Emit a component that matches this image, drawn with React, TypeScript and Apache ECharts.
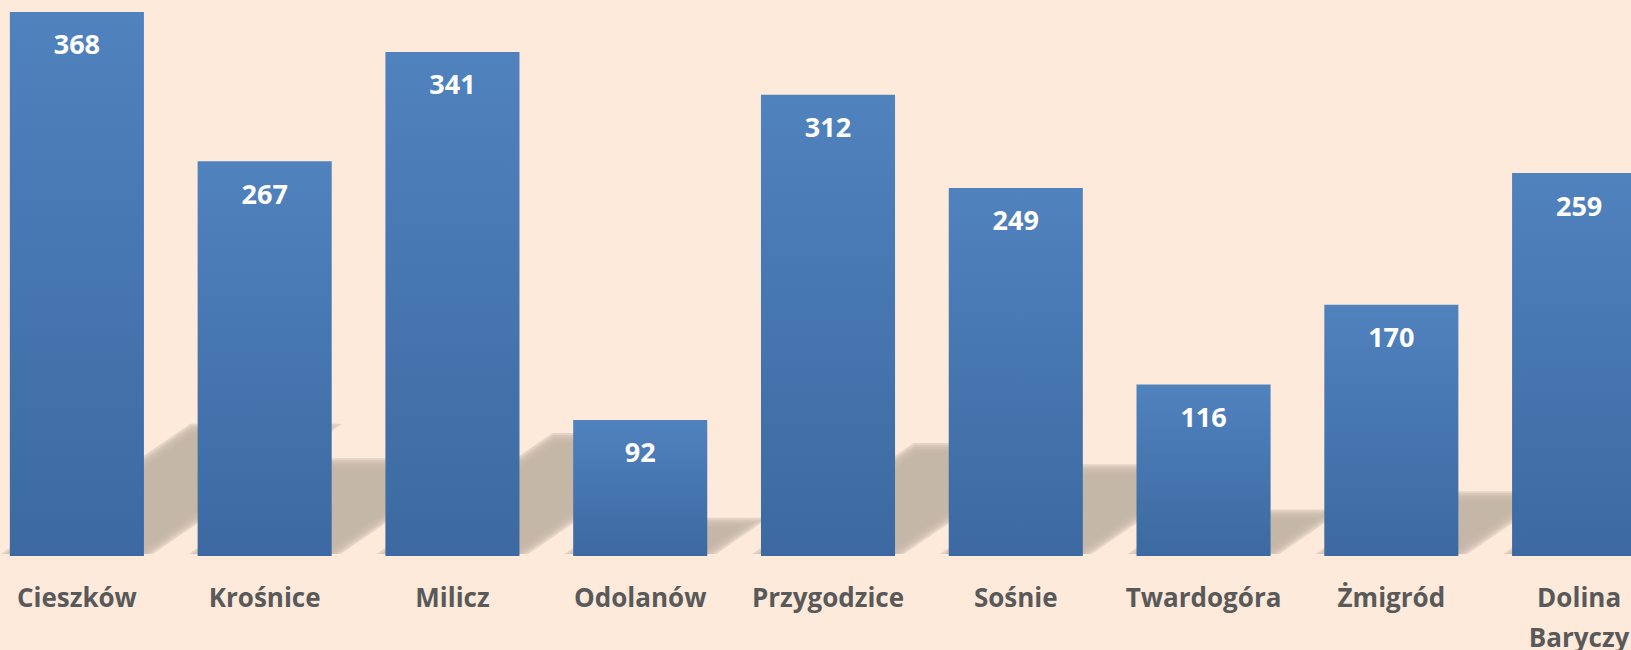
import React, { useEffect, useRef } from "react";
import * as echarts from "echarts";

const categories = [
  "Cieszków",
  "Krośnice",
  "Milicz",
  "Odolanów",
  "Przygodzice",
  "Sośnie",
  "Twardogóra",
  "Żmigród",
  "Dolina Baryczy",
];
const values = [368, 267, 341, 92, 312, 249, 116, 170, 259];

const GAP = 0.286;
const SHADOW_SCALE = 0.23;
const SKEW = 1.456;
const BLUR_STEPS = [-5, -3, -1, 1, 3, 5];

export default function App() {
  const ref = useRef<HTMLDivElement>(null);
  useEffect(() => {
    if (!ref.current) return;
    const chart = echarts.init(ref.current, undefined, { renderer: "svg" });
    const shadowData = values.map((v, i) => [i, v]);
    chart.setOption({
      animation: false,
      backgroundColor: "#FDEADB",
      grid: {
        left: -17,
        width: 1690,
        top: 0,
        height: 556,
        containLabel: false,
        outerBoundsMode: "none",
      },
      xAxis: {
        type: "category",
        data: categories,
        axisLine: { show: false },
        axisTick: { show: false },
        axisLabel: {
          interval: 0,
          margin: 21,
          color: "#595959",
          fontFamily: "Open Sans",
          fontWeight: "bold",
          fontSize: 26,
          lineHeight: 40,
          verticalAlign: "top",
          hideOverlap: false,
          formatter: (v: string) => v.replace(" ", "\n"),
        },
      },
      yAxis: {
        type: "value",
        min: 0,
        max: 376.1,
        show: false,
        splitLine: { show: false },
      },
      series: [
        {
          type: "custom",
          z: 1,
          silent: true,
          data: shadowData,
          renderItem: (params: any, api: any) => {
            const idx = api.value(0);
            const v = api.value(1);
            const base = api.coord([idx, 0]);
            const top = api.coord([idx, v]);
            const band = api.size([1, 0])[0];
            const half = (band * (1 - GAP)) / 2;
            const h = (base[1] - top[1]) * SHADOW_SCALE;
            const x0 = base[0] - half;
            const x1 = base[0] + half;
            const y0 = base[1] - 2;
            const side = 1.77;
            const children = BLUR_STEPS.map((d) => {
              const hh = Math.max(h + d, 1);
              return {
                type: "polygon",
                shape: {
                  points: [
                    [x0 - side * d, y0],
                    [x1 + side * d, y0],
                    [x1 + side * d + hh * SKEW, y0 - hh],
                    [x0 - side * d + hh * SKEW, y0 - hh],
                  ],
                },
                style: { fill: "rgba(196,181,168,0.42)" },
              };
            });
            return { type: "group", children };
          },
        },
        {
          type: "bar",
          z: 2,
          data: values,
          barCategoryGap: "28.6%",
          itemStyle: {
            color: new echarts.graphic.LinearGradient(0, 0, 0, 1, [
              { offset: 0, color: "#5082BE" },
              { offset: 1, color: "#3C69A1" },
            ]),
          },
          label: {
            show: true,
            position: "insideTop",
            distance: 15,
            color: "#FFFFFF",
            fontFamily: "Open Sans",
            fontWeight: "bold",
            fontSize: 27,
            lineHeight: 34,
          },
        },
      ],
    });
    return () => chart.dispose();
  }, []);
  return (
    <div
      ref={ref}
      style={{ position: "fixed", left: 0, top: 0, width: 1631, height: 650 }}
    />
  );
}
